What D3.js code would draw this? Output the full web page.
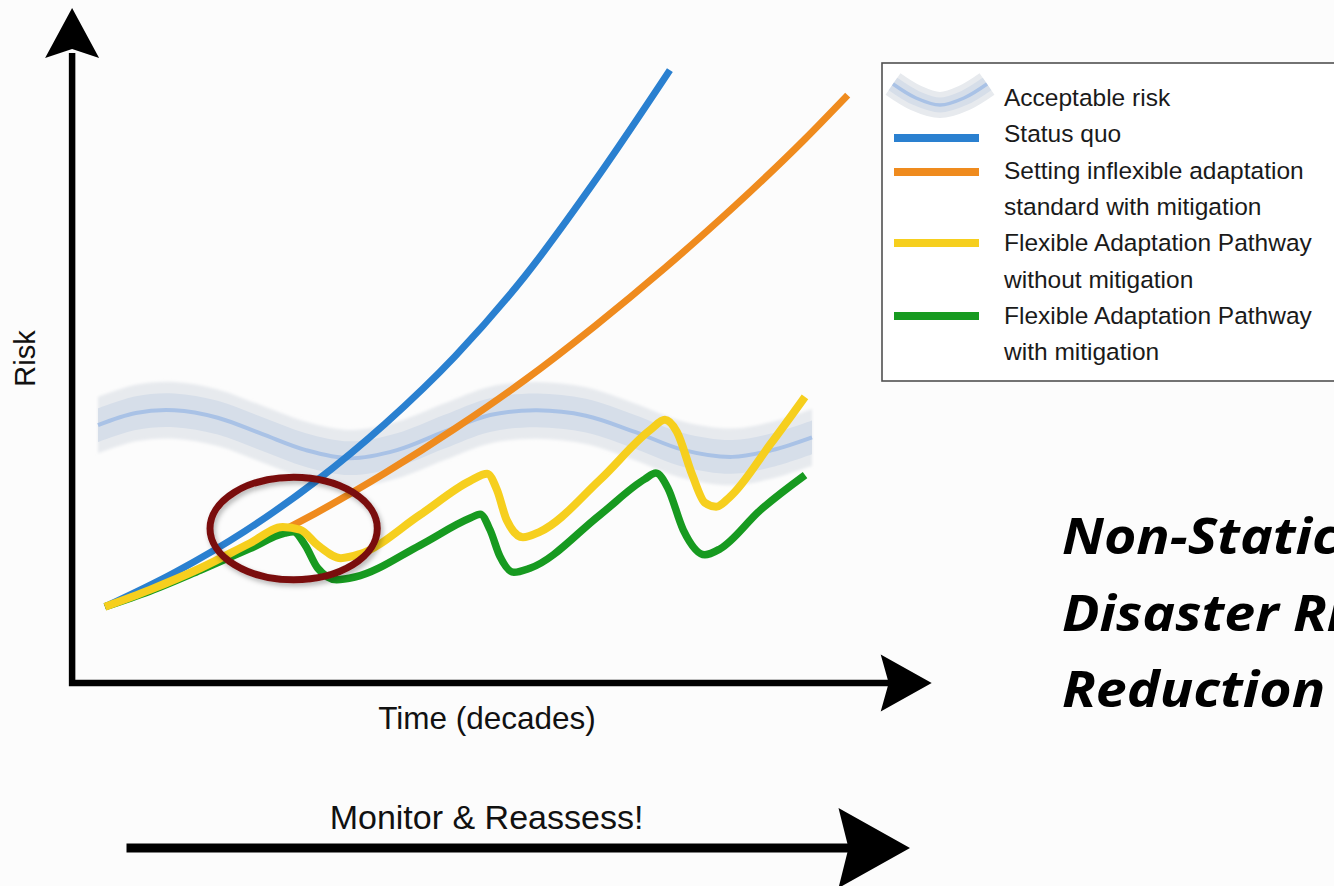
<!DOCTYPE html>
<html><head><meta charset="utf-8">
<script src="https://cdn.jsdelivr.net/npm/d3@7"></script>
<style>
html,body{margin:0;padding:0;background:#fcfcfc;}
svg{display:block;}
</style></head>
<body>
<svg id="chart" width="1334" height="886"></svg>
<script>
// ---------------- data (time in decades, risk in arbitrary units) ----------------
const statusQuo = [[0,1.13],[1,1.64],[2,2.25],[3,2.98],[4,3.84],[5,4.84],[6,6.03],[7,7.44],[8.07,9.08]];
const inflexibleStandard = [[0,1.13],[1,1.52],[2,1.98],[3,2.51],[4,3.11],[5,3.77],[6,4.49],[7,5.29],[8,6.15],[9,7.07],[10,8.06],[10.61,8.71]];
const flexibleNoMitigation = [[0,1.13],[0.64,1.38],[1.36,1.70],[2.07,2.07],[2.54,2.31],[2.79,2.27],[3.04,2.04],[3.37,1.85],[3.64,1.91],[4.5,2.49],[5.21,2.99],[5.46,3.10],[5.6,2.86],[5.74,2.41],[5.97,2.16],[6.21,2.24],[7.07,3.01],[7.79,3.75],[8.0,3.90],[8.17,3.72],[8.39,3.08],[8.57,2.67],[8.73,2.61],[8.93,2.76],[9.5,3.53],[10.0,4.24]];
const flexibleMitigation = [[0,1.13],[0.64,1.36],[1.36,1.67],[2.07,1.99],[2.57,2.22],[2.69,2.24],[2.86,2.04],[3.04,1.70],[3.31,1.53],[3.57,1.57],[4.5,2.04],[5.21,2.44],[5.36,2.50],[5.5,2.27],[5.64,1.88],[5.84,1.64],[6.07,1.70],[7.07,2.49],[7.71,3.02],[7.87,3.11],[8.04,2.89],[8.26,2.27],[8.57,1.90],[8.79,1.99],[9.36,2.56],[10.0,3.08]];
const acceptableRisk = [[-0.1,3.82],[0.44,4.00],[0.99,4.04],[1.61,3.93],[2.24,3.69],[2.87,3.45],[3.5,3.33],[4.17,3.45],[4.84,3.72],[5.5,3.97],[6.17,4.04],[6.87,3.96],[7.57,3.72],[8.27,3.45],[8.96,3.35],[9.53,3.45],[10.1,3.64]];
const acceptableSpread = [0.42, 0.25];           // outer / inner half-width of the band (risk units)
const highlightT = [1.5, 3.89];                   // circled region, time range
const highlightR = [1.53, 3.05];                  // circled region, risk range
const legendLabels = [
  ["Acceptable risk"],
  ["Status quo"],
  ["Setting inflexible adaptation","standard with mitigation"],
  ["Flexible Adaptation Pathway","without mitigation"],
  ["Flexible Adaptation Pathway","with mitigation"]
];
const xLabel = "Time (decades)";
const yLabel = "Risk";
const bottomLabel = "Monitor & Reassess!";
const titleLines = ["Non-Static","Disaster Risk","Reduction"];

// ---------------- drawing ----------------
const svg = d3.select("#chart");
svg.append("rect").attr("width",1334).attr("height",886).attr("fill","#fcfcfc");

const defs = svg.append("defs");
const sh = defs.append("filter").attr("id","shadow").attr("x","-20%").attr("y","-20%").attr("width","140%").attr("height","140%");
sh.append("feDropShadow").attr("dx",2).attr("dy",3).attr("stdDeviation",2.5).attr("flood-color","#000").attr("flood-opacity",0.28);
const soft = defs.append("filter").attr("id","soft");
soft.append("feGaussianBlur").attr("stdDeviation",1.6);

const x = d3.scaleLinear().domain([0,10]).range([105,805]);
const y = d3.scaleLinear().domain([0,10]).range([683,8]);

const FONT = "'Liberation Sans', Arial, Helvetica, sans-serif";

// acceptable risk band
const bandG = svg.append("g");
const bandFills = ["#e7eaee","#d6dee9"];
acceptableSpread.forEach((s,i)=>{
  const area = d3.area().x(d=>x(d[0])).y0(d=>y(d[1]-s)).y1(d=>y(d[1]+s)).curve(d3.curveCatmullRom);
  bandG.append("path").attr("d",area(acceptableRisk)).attr("fill",bandFills[i]).attr("filter", i===0 ? "url(#soft)" : null);
});
const line = d3.line().x(d=>x(d[0])).y(d=>y(d[1])).curve(d3.curveCatmullRom);
bandG.append("path").attr("d",line(acceptableRisk)).attr("fill","none").attr("stroke","#a9c2e6").attr("stroke-width",4);

// series
const mline = d3.line().x(d=>x(d[0])).y(d=>y(d[1])).curve(d3.curveMonotoneX);
const series = [
  {data: statusQuo, color:"#2a80d0", w:7},
  {data: inflexibleStandard, color:"#ef8b1e", w:7},
  {data: flexibleMitigation, color:"#179a20", w:7.5},
  {data: flexibleNoMitigation, color:"#f6cf1e", w:8}
];
series.forEach(s=>{
  svg.append("path").attr("d",mline(s.data)).attr("fill","none")
    .attr("stroke",s.color).attr("stroke-width",s.w).attr("stroke-linecap","butt").attr("stroke-linejoin","round");
});

// highlight ellipse
svg.append("ellipse")
  .attr("cx",(x(highlightT[0])+x(highlightT[1]))/2)
  .attr("cy",(y(highlightR[0])+y(highlightR[1]))/2)
  .attr("rx",(x(highlightT[1])-x(highlightT[0]))/2)
  .attr("ry",(y(highlightR[0])-y(highlightR[1]))/2)
  .attr("fill","none").attr("stroke","#7a1111").attr("stroke-width",7).attr("filter","url(#shadow)");

// axes
function arrowHead(tipX, tipY, dir, len, half, notch){
  if(dir==="right"){
    return `M${tipX},${tipY} L${tipX-len},${tipY-half} L${tipX-len+notch},${tipY} L${tipX-len},${tipY+half} Z`;
  } else {
    return `M${tipX},${tipY} L${tipX-half},${tipY+len} L${tipX},${tipY+len-notch} L${tipX+half},${tipY+len} Z`;
  }
}
const ox = x(-0.47), oy = y(0);
const xTip = x(11.81), yTip = y(10);
svg.append("path").attr("d",`M${ox},${yTip+45} L${ox},${oy} L${xTip-40},${oy}`)
  .attr("fill","none").attr("stroke","#000").attr("stroke-width",6.5).attr("stroke-linejoin","miter");
svg.append("path").attr("d",arrowHead(xTip,oy,"right",51,28.5,8)).attr("fill","#000");
svg.append("path").attr("d",arrowHead(ox,yTip,"up",50,27,9)).attr("fill","#000");

// axis labels
svg.append("text").attr("x",487).attr("y",729).attr("text-anchor","middle")
  .attr("font-family",FONT).attr("font-size",31.5).attr("fill","#111").text(xLabel);
svg.append("text").attr("transform","translate(35,358.5) rotate(-90)").attr("text-anchor","middle")
  .attr("font-family",FONT).attr("font-size",29).attr("fill","#111").text(yLabel);

// monitor arrow
svg.append("line").attr("x1",126.5).attr("x2",855).attr("y1",848).attr("y2",848)
  .attr("stroke","#000").attr("stroke-width",9);
svg.append("path").attr("d",arrowHead(910,848,"right",71.5,40,10)).attr("fill","#000");
svg.append("text").attr("x",486.5).attr("y",829).attr("text-anchor","middle")
  .attr("font-family",FONT).attr("font-size",34).attr("fill","#111").text(bottomLabel);

// legend
const lg = svg.append("g");
lg.append("rect").attr("x",882).attr("y",63).attr("width",520).attr("height",318)
  .attr("fill","#ffffff").attr("stroke","#505050").attr("stroke-width",1.6);
const swatchPts = [[893,84],[916,98],[940,105],[964,98],[987,84]];
const sw = d3.line().curve(d3.curveCatmullRom);
[[26,"#e7eaee"],[15,"#d6dee9"],[3.5,"#a9c2e6"]].forEach(([w,c])=>{
  lg.append("path").attr("d",sw(swatchPts)).attr("fill","none").attr("stroke",c).attr("stroke-width",w).attr("stroke-linecap","butt");
});
const swatchColors = [null,"#2a80d0","#ef8b1e","#f6cf1e","#179a20"];
const swatchY = [null,138,172,243,316];
swatchColors.forEach((c,i)=>{
  if(!c) return;
  lg.append("line").attr("x1",894).attr("x2",979).attr("y1",swatchY[i]).attr("y2",swatchY[i])
    .attr("stroke",c).attr("stroke-width",8);
});
let row = 0;
legendLabels.forEach(lines=>{
  lines.forEach(t=>{
    lg.append("text").attr("x",1004).attr("y",106 + row*36.3)
      .attr("font-family",FONT).attr("font-size",24.5).attr("fill","#1a1a1a").text(t);
    row++;
  });
});

// right title (extends past the right edge, as in the original slide)
titleLines.forEach((t,i)=>{
  svg.append("text").attr("transform",`translate(1062,${554 + i*76.5}) scale(1.11,1)`)
    .attr("font-family","'Open Sans', 'Noto Sans', sans-serif").attr("font-weight","bold").attr("font-style","italic")
    .attr("font-size",50).attr("fill","#000").text(t);
});
</script>
</body></html>
